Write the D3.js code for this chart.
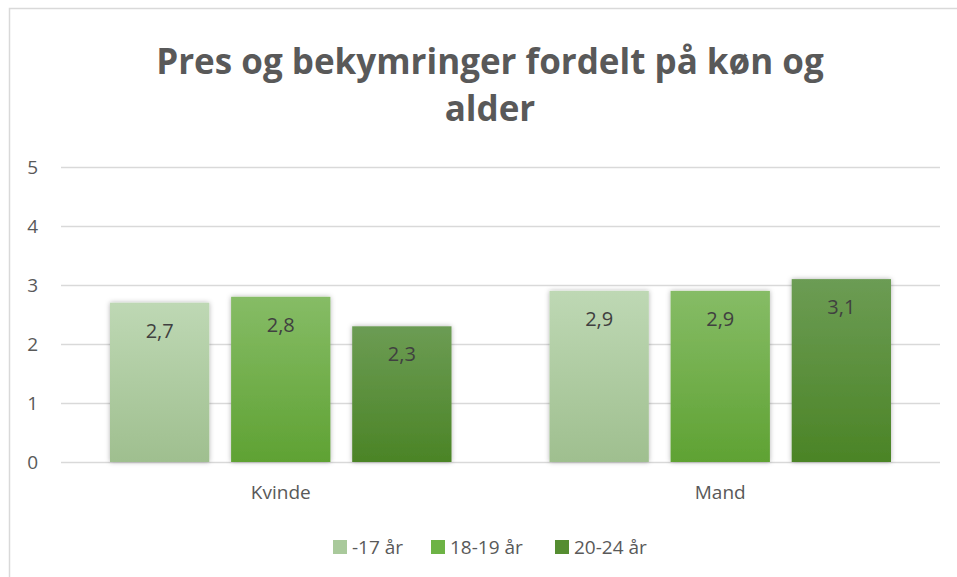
<!DOCTYPE html>
<html><head><meta charset="utf-8">
<script src="https://cdn.jsdelivr.net/npm/d3@7"></script>
<style>body{margin:0;background:#fff}svg{display:block}</style>
</head><body><svg id="c" width="957" height="577"></svg>
<script>
const categories = ["Kvinde", "Mand"];
const seriesNames = ["-17 år", "18-19 år", "20-24 år"];
const s17 = [2.7, 2.9];
const s1819 = [2.8, 2.9];
const s2024 = [2.3, 3.1];
const yTicks = [0, 1, 2, 3, 4, 5];
const titleLines = ["Pres og bekymringer fordelt på køn og", "alder"];

const seriesValues = [s17, s1819, s2024];
const grads = [["#bed8b4", "#9fbf8f"], ["#86bc66", "#5fa233"], ["#6c9c54", "#4b8426"]];
const legendCols = ["#a9c99b", "#6db345", "#558d31"];
const font = "'Open Sans', sans-serif";

const svg = d3.select("#c");
const defs = svg.append("defs");
grads.forEach((g, i) => {
  const lg = defs.append("linearGradient").attr("id", "g" + i).attr("x1", 0).attr("y1", 0).attr("x2", 0).attr("y2", 1);
  lg.append("stop").attr("offset", "0%").attr("stop-color", g[0]);
  lg.append("stop").attr("offset", "100%").attr("stop-color", g[1]);
});
const f = defs.append("filter").attr("id", "sh").attr("x", "-20%").attr("y", "-10%").attr("width", "140%").attr("height", "120%");
f.append("feDropShadow").attr("dx", 0).attr("dy", 0).attr("stdDeviation", 2.5).attr("flood-color", "#000").attr("flood-opacity", 0.3);

// chart border
svg.append("rect").attr("x", 9.5).attr("y", 8.5).attr("width", 980).attr("height", 600)
  .attr("fill", "#fff").attr("stroke", "#d9d9d9").attr("stroke-width", 1.5);

svg.append("text").attr("text-anchor", "middle")
  .attr("font-family", font).attr("font-weight", "bold").attr("font-size", 35).attr("fill", "#595959")
  .selectAll("tspan").data(titleLines).join("tspan")
  .attr("x", 490).attr("y", (d, i) => 74 + i * 47).text(d => d);

const left = 61, right = 940;
const y = d3.scaleLinear().domain([0, 5]).range([462, 167]);
const x0 = d3.scaleBand().domain(categories).range([left, right]).paddingInner(0).paddingOuter(0);
const x1 = d3.scaleBand().domain(d3.range(3)).range([49, x0.bandwidth() - 49]).paddingInner(0.18).paddingOuter(0);

// gridlines
svg.append("g").selectAll("line").data(yTicks).join("line")
  .attr("x1", left).attr("x2", right).attr("y1", d => Math.round(y(d)) + 0.5).attr("y2", d => Math.round(y(d)) + 0.5)
  .attr("stroke", "#d9d9d9").attr("stroke-width", 1.3);

// y axis labels
const yAxis = d3.axisLeft(y).tickValues(yTicks).tickSize(0).tickPadding(0).tickFormat(d3.format("d"));
const ya = svg.append("g").attr("transform", "translate(38,0)").call(yAxis);
ya.select(".domain").remove();
ya.selectAll("text").attr("font-family", font).attr("font-size", 19).attr("fill", "#595959");

// bars
const groups = svg.append("g").selectAll("g").data(categories).join("g")
  .attr("transform", d => `translate(${x0(d)},0)`);
groups.each(function (cat, ci) {
  const g = d3.select(this);
  seriesValues.forEach((vals, si) => {
    g.append("rect").attr("x", x1(si)).attr("width", x1.bandwidth())
      .attr("y", y(vals[ci])).attr("height", y(0) - y(vals[ci]))
      .attr("fill", `url(#g${si})`).attr("filter", "url(#sh)");
    g.append("text").attr("x", x1(si) + x1.bandwidth() / 2).attr("y", y(vals[ci]) + 35)
      .attr("text-anchor", "middle").attr("font-family", font).attr("font-size", 20).attr("fill", "#404040")
      .text(d3.format(".1f")(vals[ci]).replace(".", ","));
  });
});

// x axis labels
const xAxis = d3.axisBottom(x0).tickSize(0).tickPadding(0);
const xa = svg.append("g").attr("transform", "translate(0,485)").call(xAxis);
xa.select(".domain").remove();
xa.selectAll("text").attr("font-family", font).attr("font-size", 19).attr("fill", "#595959");

// legend
const legX = [333, 431, 555];
const leg = svg.append("g").selectAll("g").data(seriesNames).join("g")
  .attr("transform", (d, i) => `translate(${legX[i]},540)`);
leg.append("rect").attr("width", 14).attr("height", 14).attr("fill", (d, i) => legendCols[i]);
leg.append("text").attr("x", 19).attr("y", 14).attr("font-family", font).attr("font-size", 19).attr("fill", "#595959").text(d => d);
</script></body></html>
